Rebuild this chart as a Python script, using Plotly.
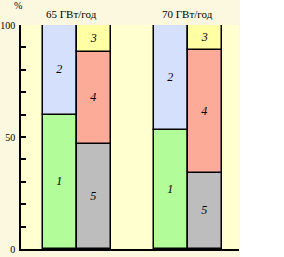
import plotly.graph_objects as go

periods = ["1990–1999", "2000–2004"]
group_titles = ["65 ГВт/год", "70 ГВт/год"]
seg1 = [60, 53]   # green, left column bottom
seg2 = [40, 47]   # blue, left column top
seg5 = [47, 34]   # gray, right column bottom
seg4 = [41, 55]   # red, right column middle
seg3 = [12, 11]   # yellow, right column top
yticks = [0, 10, 20, 30, 40, 50, 60, 70, 80, 90, 100]
ytick_text = ["0", "", "", "", "", "50", "", "", "", "", "100"]

SERIF = "Liberation Serif, Times New Roman, serif"
W = 0.306

def cum(*arrs):
    out = []
    run = [0] * len(arrs[0])
    for a in arrs:
        out.append(list(run))
        run = [r + v for r, v in zip(run, a)]
    return out

left_bases = cum(seg1, seg2)
right_bases = cum(seg5, seg4, seg3)

fig = go.Figure()

def add(vals, base, color, label, offset):
    fig.add_trace(go.Bar(
        x=periods, y=vals, base=base, width=W, offset=offset,
        marker=dict(color=color, line=dict(color="black", width=1.5)),
        text=["<i>%s</i>" % label] * len(vals), textposition="inside",
        insidetextanchor="middle", textangle=0,
        textfont=dict(family=SERIF, size=12, color="black"),
        hoverinfo="skip", showlegend=False,
    ))

add(seg1, left_bases[0], "#b2fc9a", "1", -W)
add(seg2, left_bases[1], "#d5e1fc", "2", -W)
add(seg5, right_bases[0], "#bdbdbd", "5", 0)
add(seg4, right_bases[1], "#fcab98", "4", 0)
add(seg3, right_bases[2], "#ffffa3", "3", 0)

ml, mr, mt, mb = 21, 45, 25, 8
pw = 284 - ml - mr
ph = 257 - mt - mb

shapes = [
    dict(type="rect", xref="paper", yref="paper", layer="above",
         x0=1 + 1 / pw, x1=1 + (mr + 5) / pw, y0=-0.2, y1=1.3,
         fillcolor="white", line=dict(width=0)),
]

annotations = [
    dict(xref="paper", yref="y", x=0, y=105.5, ax=0, ay=30, text="",
         showarrow=True, arrowhead=2, arrowsize=1, arrowwidth=1.5,
         arrowcolor="black"),
    dict(xref="paper", yref="paper", x=-9 / pw, y=(249 - 5) / ph, text="%",
         yanchor="middle", showarrow=False,
         font=dict(family=SERIF, size=10, color="black")),
]
title_shift = [-6, -1]
for i, t in enumerate(group_titles):
    annotations.append(dict(xref="x", yref="paper", x=periods[i], y=(249 - 14) / ph,
                            xshift=title_shift[i], text=t, showarrow=False,
                            yanchor="middle",
                            font=dict(family=SERIF, size=11, color="black")))
label_shift = [11.5, -7]
for i, p in enumerate(periods):
    annotations.append(dict(xref="x", yref="paper", x=p, y=0, yanchor="top",
                            yshift=-4, xshift=label_shift[i],
                            text=p.replace("–", " – "), showarrow=False,
                            font=dict(family=SERIF, size=10, color="black")))

fig.update_layout(
    template="none",
    width=284, height=257,
    margin=dict(l=ml, r=mr, t=mt, b=mb, pad=0, autoexpand=False),
    paper_bgcolor="#fcf8df", plot_bgcolor="#ffffcf",
    barmode="overlay", bargap=0,
    shapes=shapes, annotations=annotations,
    xaxis=dict(type="category", range=[-0.5045, 1.459], showticklabels=False,
               ticks="", showgrid=False, zeroline=False, showline=True,
               linecolor="black", linewidth=1.5, fixedrange=True,
               automargin=False),
    yaxis=dict(range=[0, 100], tickvals=yticks, ticktext=ytick_text,
               ticks="inside", ticklen=5, tickwidth=1.5, tickcolor="black",
               showgrid=False, zeroline=False, showline=True, linecolor="black",
               linewidth=1.5, ticklabelstandoff=2, automargin=False,
               tickfont=dict(family=SERIF, size=10, color="black"),
               fixedrange=True),
)

fig.write_html("out.html", config={"displayModeBar": False})
